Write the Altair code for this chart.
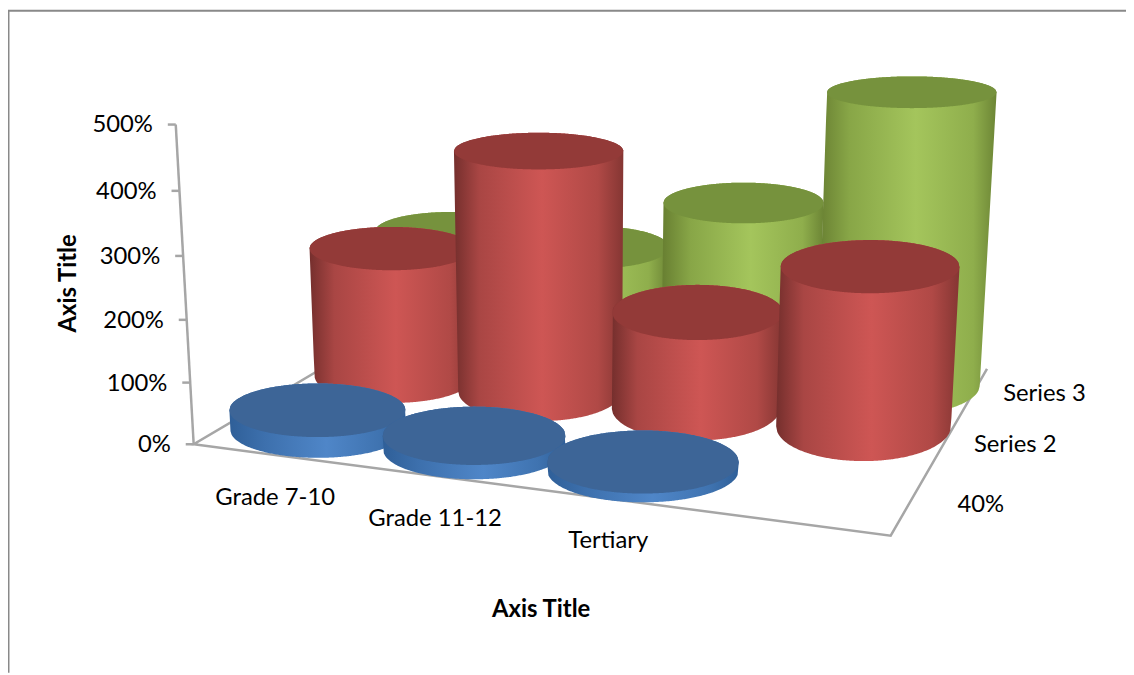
import altair as alt
import numpy as np
import pandas as pd

categories = ["Grade 7-10", "Grade 11-12", "Tertiary", ""]
series = ["40%", "Series 2", "Series 3"]
values_s1 = [0.33, 0.22, 0.13, None]
values_s2 = [2.24, 4.04, 1.59, 2.54]
values_s3 = [2.05, 1.95, 2.9, 4.85]
ticks = [0, 1, 2, 3, 4, 5]
axis_title = "Axis Title"

# camera: floor corners, vertical vanishing point, top of the value axis
FL, FR, BR, BL = (195, 445), (897, 537), (994, 369), (415, 315)
VP = (585, 7400)
AXIS_TOP_Y = 123
ROW_W = [0.165, 0.55, 0.833]
ROW_SHIFT = [0.014, 0.003, 0.011]
ROW_RW = [0.17, 0.215, 0.21]
ROW_RU = [0.13, 0.121, 0.12]

def floor_homography():
    A, b = [], []
    for (u, w), (x, y) in zip([(0, 0), (1, 0), (1, 1), (0, 1)], [FL, FR, BR, BL]):
        A.append([u, w, 1, 0, 0, 0, -u * x, -w * x]); b.append(x)
        A.append([0, 0, 0, u, w, 1, -u * y, -w * y]); b.append(y)
    return np.append(np.linalg.solve(np.array(A, float), np.array(b, float)), 1).reshape(3, 3)

H = floor_homography()
k = (AXIS_TOP_Y - FL[1]) / (5 * (VP[1] - AXIS_TOP_Y))
P = np.column_stack([H[:, 0], H[:, 1], np.array([VP[0] * k, VP[1] * k, k]), H[:, 2]])

def project(u, w, v):
    q = P @ np.array([u, w, v, 1.0])
    return q[0] / q[2], q[1] / q[2]

def hull_area(points):
    pts = sorted(set((round(float(a), 3), round(float(b), 3)) for a, b in points))
    def half(seq, sign):
        out = []
        for p in seq:
            while len(out) >= 2 and sign * ((out[-1][0] - out[-2][0]) * (p[1] - out[-2][1]) - (out[-1][1] - out[-2][1]) * (p[0] - out[-2][0])) <= 0:
                out.pop()
            out.append(p)
        return np.array(out)
    a = half(pts, 1)
    b = half(pts, -1)
    xs = np.linspace(pts[0][0], pts[-1][0], 160)
    return pd.DataFrame({"x": xs, "y": np.interp(xs, a[:, 0], a[:, 1]), "y2": np.interp(xs, b[:, 0], b[:, 1])})

theta = np.linspace(0, 2 * np.pi, 96, endpoint=False)

def circle(c, s, v):
    uc, wc = (c + 0.5) / 4 + ROW_SHIFT[s], ROW_W[s]
    pts = np.array([project(uc + ROW_RU[s] * np.cos(t), wc + ROW_RW[s] * np.sin(t), v) for t in theta])
    # level the projected ellipse, as the reference draws its caps
    xc, yc = pts.mean(axis=0)
    slope = np.sum((pts[:, 0] - xc) * (pts[:, 1] - yc)) / np.sum((pts[:, 0] - xc) ** 2)
    pts[:, 1] -= slope * (pts[:, 0] - xc)
    return [tuple(p) for p in pts]

def grad(stops):
    return alt.Gradient(gradient="linear", x1=0, x2=1, y1=0, y2=0,
                        stops=[alt.GradientStop(offset=o, color=col) for o, col in stops])

BODY = [
    grad([(0, "#2f5f98"), (0.2, "#3d70ad"), (0.55, "#4f86c8"), (0.85, "#3f73b0"), (1, "#2f5f98")]),
    grad([(0, "#752f2d"), (0.15, "#a94644"), (0.52, "#ce5654"), (0.85, "#b04946"), (1, "#853633")]),
    grad([(0, "#677e31"), (0.18, "#88a647"), (0.55, "#a4c55c"), (0.87, "#8fae4c"), (1, "#6c8535")]),
]
TOP = ["#3d6597", "#933a38", "#76923d"]

x_scale = alt.Scale(domain=[8, 1134], range=[0, 1126], nice=False, zero=False)
y_scale = alt.Scale(domain=[675, 8], range=[667, 0], nice=False, zero=False)
X = alt.X("x:Q", scale=x_scale, axis=None)
Y = alt.Y("y:Q", scale=y_scale, axis=None)

layers = []
one = pd.DataFrame({"t": [axis_title]})

# frame
layers.append(alt.Chart(one).mark_rule(color="#898989", strokeWidth=2).encode(
    x=alt.value(0.5), y=alt.value(0), y2=alt.value(667)))
layers.append(alt.Chart(one).mark_rule(color="#898989", strokeWidth=2).encode(
    y=alt.value(0.5), x=alt.value(0), x2=alt.value(1126)))

# walls / floor lines
line_rows = []
def add_line(name, pts):
    for i, (a, b) in enumerate(pts):
        line_rows.append({"g": name, "i": i, "x": a, "y": b})

add_line("value", [project(0, 0, 0), project(0, 0, 5)])
add_line("floor", [project(0, 1, 0), project(0, 0, 0), project(1, 0, 0), project(1, 1, 0)])
for t in ticks:
    a, b = project(0, 0, t)
    add_line(f"t{t}", [(a, b), (a - 8, b)])
layers.append(alt.Chart(pd.DataFrame(line_rows)).mark_line(color="#a6a6a6", strokeWidth=2.5).encode(
    x=X, y=Y, detail="g:N", order="i:Q"))

# cylinders, back row first and left to right within a row
rows = [values_s1, values_s2, values_s3]
for s in [2, 1, 0]:
    for c, v in enumerate(rows[s]):
        if v is None:
            continue
        base = circle(c, s, 0)
        top = circle(c, s, v)
        layers.append(alt.Chart(hull_area(base + top)).mark_area(color=BODY[s], interpolate="linear").encode(x=X, y=Y, y2="y2:Q"))
        layers.append(alt.Chart(hull_area(top)).mark_area(color=TOP[s], interpolate="linear").encode(x=X, y=Y, y2="y2:Q"))

# labels
label_rows = []
for t in ticks:
    a, b = project(0, 0, t)
    label_rows.append({"x": a - 23, "y": b + 1, "t": f"{t * 100}%"})
layers.append(alt.Chart(pd.DataFrame(label_rows)).mark_text(font="Lato", fontSize=24, align="right", baseline="middle", color="#000000").encode(x=X, y=Y, text="t:N"))

cat_rows = []
for c, name in enumerate(categories):
    if name:
        a, b = project((c + 0.5) / 4, 0, 0)
        cat_rows.append({"x": a + 6, "y": b + 44, "t": name})
layers.append(alt.Chart(pd.DataFrame(cat_rows)).mark_text(font="Lato", fontSize=24, align="center", baseline="middle", color="#000000").encode(x=X, y=Y, text="t:N"))

ser_rows = []
for s, name in enumerate(series):
    a, b = project(1, (s + 0.5) / 3, 0)
    ser_rows.append({"x": a + 71, "y": b + 3, "t": name})
layers.append(alt.Chart(pd.DataFrame(ser_rows)).mark_text(font="Lato", fontSize=24, align="center", baseline="middle", color="#000000").encode(x=X, y=Y, text="t:N"))

# axis titles
layers.append(alt.Chart(one).mark_text(font="Lato", fontSize=24, fontWeight="bold", color="#000000").encode(
    x=alt.value(537), y=alt.value(604), text="t:N"))
layers.append(alt.Chart(one).mark_text(font="Lato", fontSize=24, fontWeight="bold", color="#000000", angle=270).encode(
    x=alt.value(61), y=alt.value(275), text="t:N"))

chart = alt.layer(*layers).properties(
    width=1126, height=667, padding=0,
    autosize=alt.AutoSizeParams(type="none"),
    background="white",
).configure_view(stroke=None)

chart.save("out.html", embed_options={"renderer": "svg", "actions": False})
